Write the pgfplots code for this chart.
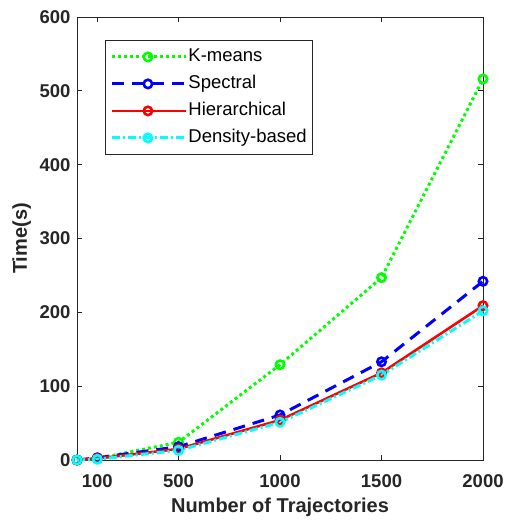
\documentclass[border=0pt]{standalone}
\usepackage{fontspec}
\setmainfont{Liberation Sans}
\usepackage{pgfplots}
\pgfplotsset{compat=1.18}
\usetikzlibrary{calc}
\definecolor{axgray}{RGB}{38,38,38}
\definecolor{kgreen}{RGB}{0,255,0}
\definecolor{sblue}{RGB}{0,0,255}
\definecolor{hred}{RGB}{255,0,0}
\definecolor{dcyan}{RGB}{0,255,255}
\begin{document}
\begin{tikzpicture}
\begin{axis}[
  scale only axis, width=406pt, height=443pt,
  xmin=0, xmax=2000, ymin=0, ymax=600,
  clip=false,
  xtick={100,500,1000,1500,2000},
  ytick={0,100,200,300,400,500,600},
  tick align=inside,
  major tick length=5pt,
  axis line style={axgray, line width=0.8pt},
  tick style={axgray, line width=0.8pt},
  ticklabel style={font=\fontsize{18.5}{20}\selectfont\bfseries, text=axgray},
  /pgf/number format/assume math mode=true,
  scaled ticks=false,
  /pgf/number format/1000 sep={},
  xticklabel style={yshift=-11pt},
  yticklabel style={xshift=-3pt},
  xlabel={Number of Trajectories},
  ylabel={Time(s)},
  label style={font=\fontsize{20}{22}\selectfont\bfseries, text=axgray},
  xlabel style={at={(axis description cs:0.5,-0.1196)}, anchor=base},
  ylabel style={at={(axis description cs:-0.1232,0.5)}, anchor=base},
  legend cell align=left,
  legend style={at={(axis description cs:0.069,0.948)}, anchor=north west,
    draw=axgray, line width=0.8pt, font=\fontsize{18.5}{20}\selectfont,
    inner xsep=5pt, inner ysep=7pt, row sep=8pt,
    nodes={inner sep=1pt, text height=13pt, text depth=4pt}},
  legend image code/.code={\draw[mark repeat=2,mark phase=2] plot coordinates {(0pt,0pt) (36pt,0pt) (74pt,0pt)};},
  every axis plot/.append style={mark=o, mark size=4.2pt, mark options={solid, line width=2.6pt}},
]
\addplot[kgreen, line width=3pt, dash pattern=on 3pt off 3pt] coordinates {(0,0) (100,2) (500,24) (1000,129) (1500,247) (2000,516)};
\addlegendentry{K-means}
\addplot[sblue, line width=3pt, dash pattern=on 12pt off 8pt] coordinates {(0,0) (100,3) (500,18) (1000,61) (1500,133) (2000,242)};
\addlegendentry{Spectral}
\addplot[hred, line width=2.6pt] coordinates {(0,0) (100,2) (500,15) (1000,54) (1500,118) (2000,209)};
\addlegendentry{Hierarchical}
\addplot[dcyan, line width=3pt, dash pattern=on 8pt off 3pt on 2pt off 3pt] coordinates {(0,0) (100,1) (500,13) (1000,51) (1500,115) (2000,202)};
\addlegendentry{Density-based}
\coordinate (ll) at (rel axis cs:0,0);
\coordinate (ur) at (rel axis cs:1,1);
\end{axis}
\pgfresetboundingbox
\path[use as bounding box] ($(ll)+(-77pt,-60pt)$) rectangle ($(ur)+(21pt,17pt)$);
\end{tikzpicture}
\end{document}
